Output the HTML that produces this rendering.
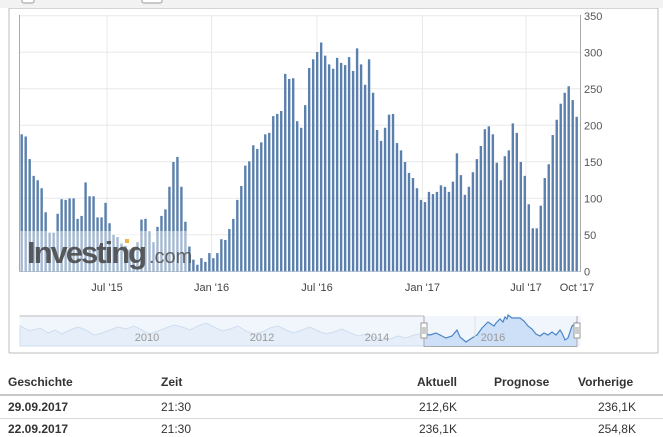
<!DOCTYPE html>
<html><head><meta charset="utf-8"><style>
html,body{margin:0;padding:0;background:#fff;width:663px;height:437px;overflow:hidden;font-family:"Liberation Sans",Arial,sans-serif}
.t{position:absolute;font-size:12px;color:#333;white-space:nowrap}
.b{font-weight:bold}
</style></head><body>
<svg width="663" height="437" style="position:absolute;left:0;top:0" font-family="Liberation Sans, Arial, sans-serif">
<rect x="0" y="0" width="663" height="8" fill="#f2f2f2"/>
<line x1="9" y1="8.5" x2="658" y2="8.5" stroke="#d4d4d4"/>
<rect x="22" y="-4" width="12" height="7" rx="2" fill="#fff" stroke="#999"/>
<rect x="142" y="-4" width="20" height="7" rx="2" fill="#fff" stroke="#999"/>
<line x1="9" y1="8" x2="9" y2="353" stroke="#bdbdbd"/>
<line x1="658" y1="8" x2="658" y2="353" stroke="#bdbdbd"/>
<line x1="9" y1="353" x2="658" y2="353" stroke="#bdbdbd"/>
<g stroke="#e8e8e8" stroke-width="1">
<line x1="20" y1="15.8" x2="580" y2="15.8"/>
<line x1="20" y1="52.3" x2="580" y2="52.3"/>
<line x1="20" y1="88.8" x2="580" y2="88.8"/>
<line x1="20" y1="125.3" x2="580" y2="125.3"/>
<line x1="20" y1="161.8" x2="580" y2="161.8"/>
<line x1="20" y1="198.3" x2="580" y2="198.3"/>
<line x1="20" y1="234.8" x2="580" y2="234.8"/>
<line x1="107" y1="15" x2="107" y2="271"/>
<line x1="211.6" y1="15" x2="211.6" y2="271"/>
<line x1="317" y1="15" x2="317" y2="271"/>
<line x1="422.4" y1="15" x2="422.4" y2="271"/>
<line x1="526" y1="15" x2="526" y2="271"/>
</g>
<line x1="19.5" y1="15" x2="19.5" y2="272" stroke="#aaa"/>
<line x1="580.5" y1="15" x2="580.5" y2="272" stroke="#aaa"/>
<line x1="19.5" y1="271.5" x2="580.5" y2="271.5" stroke="#c0cbd8"/>
<g id="bars" fill="#5b80ad"></g>
<rect x="20" y="231" width="167" height="40" fill="#fff" opacity="0.45"/>
<text x="27" y="263" font-size="31" font-weight="bold" fill="#4a4a4a" letter-spacing="-2" opacity="0.9">Investing</text>
<text x="149" y="263" font-size="20" fill="#555" opacity="0.9">.com</text>
<rect x="125" y="239" width="4" height="4" fill="#f0b440"/>
<g font-size="11" fill="#555">
<text x="584" y="20">350</text><text x="584" y="56.5">300</text><text x="584" y="93">250</text>
<text x="584" y="129.5">200</text><text x="584" y="166">150</text><text x="584" y="202.5">100</text>
<text x="584" y="239">50</text><text x="584" y="275.5">0</text>
</g>
<g font-size="11" fill="#444" text-anchor="middle">
<text x="107" y="291">Jul '15</text><text x="211.6" y="291">Jan '16</text><text x="317" y="291">Jul '16</text>
<text x="422.4" y="291">Jan '17</text><text x="526" y="291">Jul '17</text><text x="577" y="291">Oct '17</text>
</g>
<!-- navigator -->
<rect x="19.5" y="316" width="561" height="30" fill="#f1f6fc"/>
<path d="M20,326 L30,331 40,328 48,333 55,330 62,334 70,330 78,327 86,330 94,335 102,333 110,330 118,327 126,329 134,326 142,330 150,334 158,331 166,328 174,325 182,327 190,330 198,326 206,323 214,327 222,331 230,329 238,326 246,331 254,334 262,332 270,328 278,326 286,330 294,333 302,330 310,327 318,331 326,334 334,332 342,329 350,333 358,336 366,334 374,337 382,340 390,339 398,336 406,338 414,335 424,333 L424,346 20,346Z" fill="#e6eff9" stroke="#cfddef" stroke-width="1"/>
<line x1="19.5" y1="316" x2="424" y2="316" stroke="#bbb"/>
<path d="M424,334 L430,335 436,333 442,336 446,338 452,336 457,330 460,337 466,342 472,338 477,335 482,328 488,322 494,326 496,323 500,319 503,322 505,317 507,319 508,315 512,318 520,318 524,321 528,326 532,329 536,334 540,336 544,333 548,335 552,332 556,335 560,330 562,333 565,340 568,338 572,326 577,322 L577,346 424,346Z" fill="#cde0f7"/>
<path d="M424,334 L430,335 436,333 442,336 446,338 452,336 457,330 460,337 466,342 472,338 477,335 482,328 488,322 494,326 496,323 500,319 503,322 505,317 507,319 508,315 512,318 520,318 524,321 528,326 532,329 536,334 540,336 544,333 548,335 552,332 556,335 560,330 562,333 565,340 568,338 572,326 577,322" fill="none" stroke="#4a86c8" stroke-width="1.2"/>
<line x1="475" y1="316" x2="475" y2="346" stroke="#e0e0e0"/>
<path d="M424,316 L424,346.5 L577,346.5 L577,316" fill="none" stroke="#aaa"/>
<g font-size="11" fill="#999" text-anchor="middle">
<text x="147" y="341">2010</text><text x="262" y="341">2012</text><text x="377" y="341">2014</text><text x="493" y="341">2016</text>
</g>
<g fill="#fff" stroke="#999">
<rect x="421" y="323" width="6" height="15"/><rect x="574" y="323" width="6" height="15"/>
</g>
<g stroke="#999"><line x1="423" y1="327" x2="423" y2="334"/><line x1="425" y1="327" x2="425" y2="334"/>
<line x1="576" y1="327" x2="576" y2="334"/><line x1="578" y1="327" x2="578" y2="334"/></g>
<!-- table lines -->
<rect x="0" y="394" width="663" height="2" fill="#c8c8c8"/>
<rect x="0" y="418" width="663" height="1" fill="#d8d8d8"/>
</svg>
<div class="t b" style="left:8px;top:375px">Geschichte</div>
<div class="t b" style="left:161px;top:375px">Zeit</div>
<div class="t b" style="right:206px;top:375px">Aktuell</div>
<div class="t b" style="left:494px;top:375px">Prognose</div>
<div class="t b" style="left:578px;top:375px">Vorherige</div>
<div class="t b" style="left:8px;top:400px">29.09.2017</div>
<div class="t" style="left:161px;top:400px">21:30</div>
<div class="t" style="right:206px;top:400px">212,6K</div>
<div class="t" style="right:27px;top:400px">236,1K</div>
<div class="t b" style="left:8px;top:422px">22.09.2017</div>
<div class="t" style="left:161px;top:422px">21:30</div>
<div class="t" style="right:206px;top:422px">236,1K</div>
<div class="t" style="right:27px;top:422px">254,8K</div>
<script>
var v=[188,185,154,131,125,114,81,53,53,79,99,98,100,100,72,76,122,103,103,74,74,94,66,50,47,38,35,30,33,40,71,72,55,40,61,
76,85,116,150,157,116,68,34,16,9,18,13,25,18,25,44,43,58,72,98,117,145,151,173,168,177,188,190,213,216,220,271,264,265,206,197,228,279,
291,301,314,296,284,278,293,286,283,294,275,306,284,256,291,245,194,179,197,215,216,176,166,150,135,128,114,98,95,109,106,109,
118,116,109,123,162,132,105,116,136,154,172,195,199,188,149,125,158,166,203,190,150,131,92,59,59,90,128,147,187,208,230,245,254,235,212];
var g=document.getElementById('bars'),s='';
var n=v.length,step=(576.7-21.7)/(n-1);
for(var i=0;i<n;i++){var x=21.7+i*step-1.2,h=v[i]*0.7286;s+='<rect x="'+x.toFixed(2)+'" y="'+(271.3-h).toFixed(2)+'" width="2.4" height="'+h.toFixed(2)+'"/>';}
g.innerHTML=s;
</script>
</body></html>
